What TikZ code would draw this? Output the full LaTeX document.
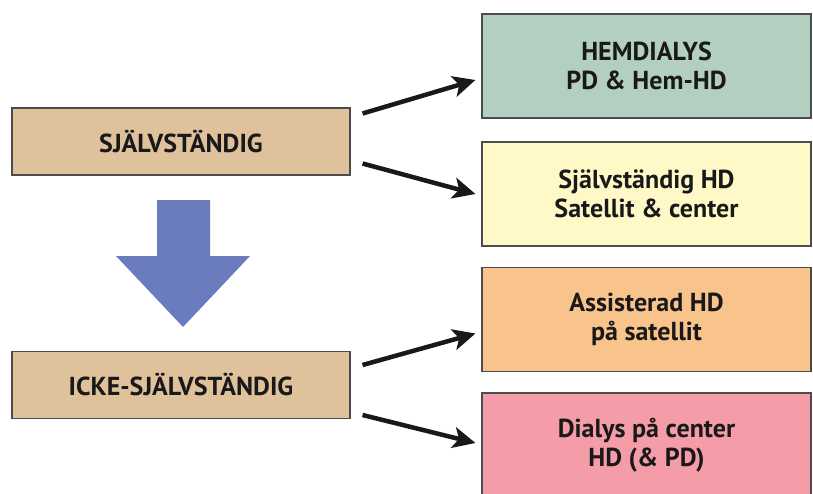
\documentclass[tikz,border=0pt]{standalone}
\usepackage{fontspec}
\setmainfont{PT Sans}
\usepackage{tikz}
\usetikzlibrary{arrows.meta}
\definecolor{tan}{HTML}{DFC29C}
\definecolor{hemgreen}{HTML}{B2CFC0}
\definecolor{satyellow}{HTML}{FFF9C8}
\definecolor{assorange}{HTML}{F9C48C}
\definecolor{cenpink}{HTML}{F49DA8}
\definecolor{downblue}{HTML}{6A7BBE}
\tikzset{
  leftbox/.style={draw=black!70, line width=0.8pt, fill=tan, minimum width=8.45cm, minimum height=1.675cm, font=\bfseries\fontsize{18.5}{21}\selectfont, text=black!90},
  rightbox/.style={draw=black!70, line width=0.8pt, minimum width=8.225cm, minimum height=2.6cm, align=center, font=\bfseries\fontsize{18.5}{21}\selectfont, text=black!90},
  arr/.style={line width=3.2pt, -{Stealth[length=16pt, width=15pt, inset=4pt]}, black!90}
}
\begin{document}
\begin{tikzpicture}
\useasboundingbox (0,0) rectangle (20.325,-12.325);
\node[leftbox] (sj) at (4.525,-3.5375) {SJÄLVSTÄNDIG};
\node[leftbox] (icke) at (4.525,-9.625) {ICKE-SJÄLVSTÄNDIG};
\node[rightbox, fill=hemgreen] (hem) at (16.1625,-1.65) {HEMDIALYS\\PD \& Hem-HD};
\node[rightbox, fill=satyellow] (sat) at (16.1625,-4.85) {Självständig HD\\Satellit \& center};
\node[rightbox, fill=assorange] (ass) at (16.1625,-7.9875) {Assisterad HD\\på satellit};
\node[rightbox, fill=cenpink] (cen) at (16.1625,-11.125) {Dialys på center\\HD (\& PD)};
\draw[arr] ([xshift=0.3cm, yshift=0.7cm]sj.east) -- ([xshift=-0.15cm, yshift=-0.35cm]hem.west);
\draw[arr] ([xshift=0.3cm, yshift=-0.55cm]sj.east) -- ([xshift=-0.15cm, yshift=0.0cm]sat.west);
\draw[arr] ([xshift=0.3cm, yshift=0.5cm]icke.east) -- ([xshift=-0.15cm, yshift=-0.35cm]ass.west);
\draw[arr] ([xshift=0.3cm, yshift=-0.75cm]icke.east) -- ([xshift=-0.15cm, yshift=0.05cm]cen.west);
\fill[downblue] (3.925,-5.0) -- (5.25,-5.0) -- (5.25,-6.4) -- (6.25,-6.4) -- (4.575,-8.175) -- (2.9,-6.4) -- (3.925,-6.4) -- cycle;
\end{tikzpicture}
\end{document}
